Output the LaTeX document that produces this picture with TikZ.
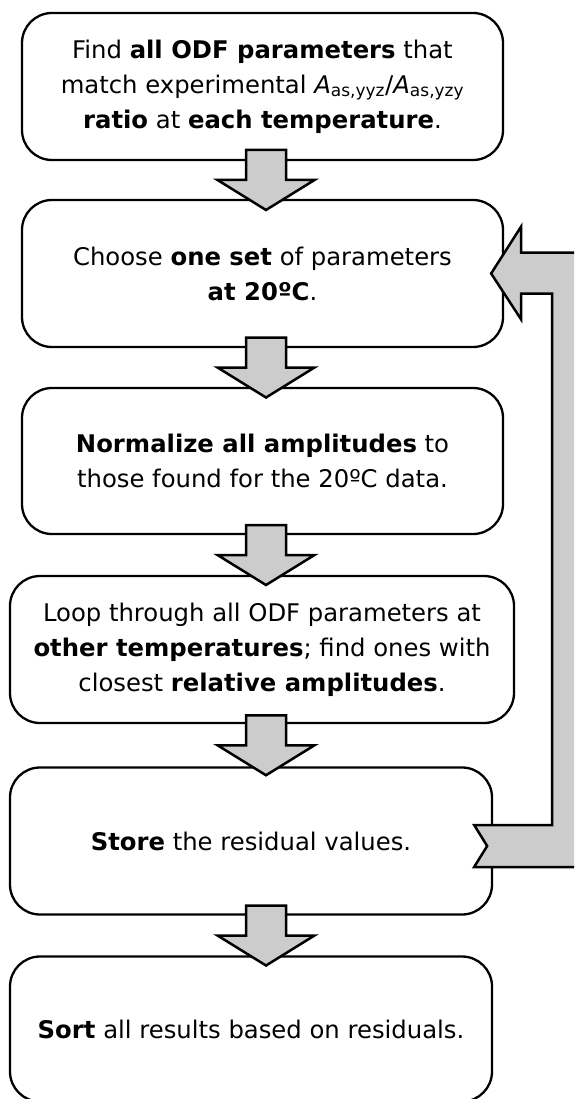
\documentclass[tikz,border=0pt]{standalone}
\usepackage{fontspec}
\setmainfont{DejaVu Sans}
\usetikzlibrary{calc}
\definecolor{arrowfill}{HTML}{CCCCCC}
\tikzset{stepbox/.style={draw,line width=2.3pt,rounded corners=30pt,align=center,
 minimum height=147pt,inner sep=0pt,font=\fontsize{24.3}{35}\selectfont},
 blockarrow/.style={draw,line width=2.5pt,fill=arrowfill,line join=miter}}

\begin{document}
\begin{tikzpicture}[x=1pt,y=-1pt]
\clip (0,0) rectangle (574,1099);
% the six steps
\node[stepbox,minimum width=481pt] (find) at (262.5,86.5) {Find \textbf{all ODF parameters} that\\match experimental \textit{A}\textsubscript{as,yyz}/\textit{A}\textsubscript{as,yzy}\\\textbf{ratio} at \textbf{each temperature}.};
\node[stepbox,minimum width=481pt] (choose) at (262.5,273.5) {Choose \textbf{one set} of parameters\\\textbf{at 20ºC}.};
\node[stepbox,minimum width=481pt,minimum height=146pt] (normalize) at (262.5,461) {\textbf{Normalize all amplitudes} to\\those found for the 20ºC data.};
\node[stepbox,minimum width=504pt] (loopthrough) at (262,649.5) {Loop through all ODF parameters at\\\textbf{other temperatures}; find ones with\\closest \textbf{relative amplitudes}.};
\node[stepbox,minimum width=482pt] (store) at (251,841) {\textbf{Store} the residual values.};
\node[stepbox,minimum width=482pt,minimum height=145pt] (sortall) at (251,1029) {\textbf{Sort} all results based on residuals.};
% block arrows between the steps
\foreach \a/\b in {find/choose,choose/normalize,normalize/loopthrough,loopthrough/store,store/sortall}
 \draw[blockarrow] let \p1=($(\a.south)!.5!(\b.north)$) in
  (246pt,\y1+30pt) -- (286pt,\y1+30pt) -- (286pt,\y1) -- (314.5pt,\y1) -- (266pt,\y1-30pt)
  -- (217.5pt,\y1) -- (246pt,\y1) -- cycle;
% loop back from the residuals to the next parameter set
\coordinate (backtip) at ([xshift=-13pt]choose.east);
\coordinate (backtail) at ([xshift=-19pt,yshift=-5pt]store.east);
\draw[blockarrow] let \p1=(backtip),\p2=(backtail) in
 (\x2,\y2+21pt) -- (\x2+13pt,\y2) -- (\x2,\y2-21pt) -- (\x2+119pt,\y2-21pt)
 -- (\x2+119pt,\y1+21pt) -- (\x1+30pt,\y1+21pt) -- (\x1+30pt,\y1+47pt) -- (\x1,\y1)
 -- (\x1+30pt,\y1-46pt) -- (\x1+30pt,\y1-20pt) -- (\x2+78pt,\y1-20pt) -- (\x2+78pt,\y2+21pt) -- cycle;
\end{tikzpicture}
\end{document}
